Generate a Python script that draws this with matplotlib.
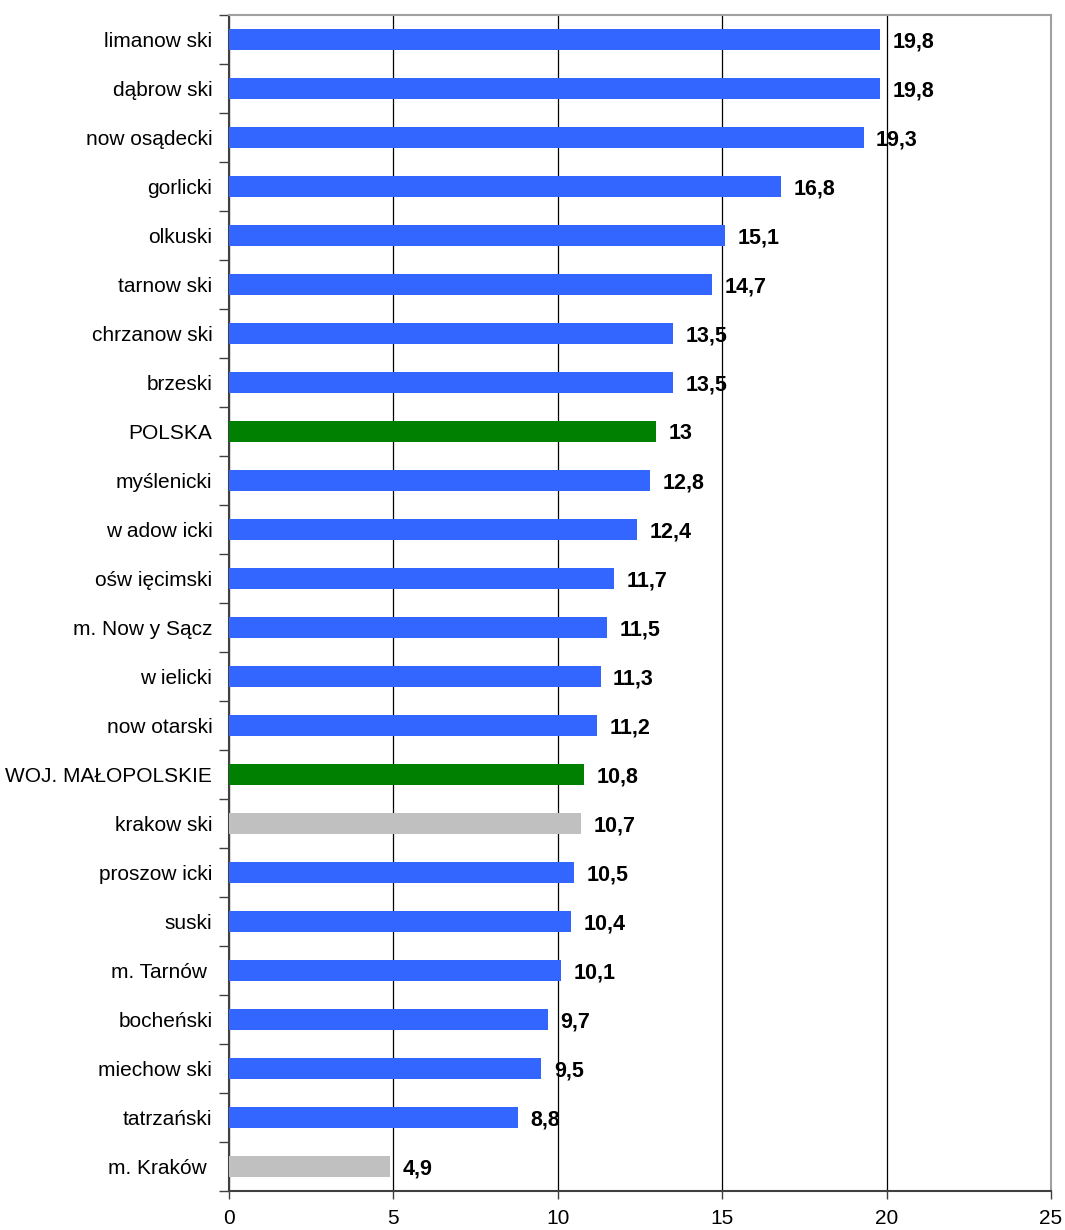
import numpy as np
import matplotlib.pyplot as plt
from matplotlib.ticker import FixedLocator, NullFormatter

# categories, top to bottom as in the chart
categories = ['limanow ski', 'dąbrow ski', 'now osądecki', 'gorlicki', 'olkuski',
              'tarnow ski', 'chrzanow ski', 'brzeski', 'POLSKA', 'myślenicki',
              'w adow icki', 'ośw ięcimski', 'm. Now y Sącz', 'w ielicki',
              'now otarski', 'WOJ. MAŁOPOLSKIE', 'krakow ski', 'proszow icki',
              'suski', 'm. Tarnów ', 'bocheński', 'miechow ski', 'tatrzański',
              'm. Kraków ']
values = [19.8, 19.8, 19.3, 16.8, 15.1, 14.7, 13.5, 13.5, 13, 12.8, 12.4, 11.7,
          11.5, 11.3, 11.2, 10.8, 10.7, 10.5, 10.4, 10.1, 9.7, 9.5, 8.8, 4.9]
value_labels = ['19,8', '19,8', '19,3', '16,8', '15,1', '14,7', '13,5', '13,5',
                '13', '12,8', '12,4', '11,7', '11,5', '11,3', '11,2', '10,8',
                '10,7', '10,5', '10,4', '10,1', '9,7', '9,5', '8,8', '4,9']
green_cats = ['POLSKA', 'WOJ. MAŁOPOLSKIE']
gray_cats = ['krakow ski', 'm. Kraków ']

BLUE = '#3366FF'
GREEN = '#008000'
GRAY = '#C0C0C0'

plt.rcParams['font.family'] = ['Liberation Sans', 'DejaVu Sans']

fig = plt.figure(figsize=(10.65, 12.3), dpi=100)
ax = fig.add_axes([229 / 1065, 1 - 1191 / 1230, (1051 - 229) / 1065, (1191 - 15) / 1230])

n = len(categories)
y = np.arange(n)
colors = [GREEN if c in green_cats else GRAY if c in gray_cats else BLUE for c in categories]

ax.barh(y, values, height=0.43, color=colors, zorder=3)

for yi, v, lab in zip(y, values, value_labels):
    ax.annotate(lab, (v, yi), xytext=(9, -1.5), textcoords='offset points',
                ha='left', va='center', fontsize=15.5, fontweight='bold', zorder=4)

ax.set_xlim(0, 25)
ax.set_ylim(n - 0.5, -0.5)
ax.set_xticks([0, 5, 10, 15, 20, 25])
ax.set_xticklabels(['0', '5', '10', '15', '20', '25'], fontsize=15)
ax.tick_params(axis='x', direction='out', length=6, width=1, pad=7, color='#404040')

# category labels at bar centres, tick marks at the row boundaries
ax.set_yticks(y)
ax.set_yticklabels(categories, fontsize=15)
ax.tick_params(axis='y', which='major', length=0, pad=12)
ax.yaxis.set_minor_locator(FixedLocator(np.arange(n + 1) - 0.5))
ax.yaxis.set_minor_formatter(NullFormatter())
ax.tick_params(axis='y', which='minor', direction='out', length=7, width=1, color='#404040')

ax.grid(axis='x', color='black', linewidth=0.9, zorder=1)
ax.grid(axis='y', visible=False)

for side in ['left', 'bottom']:
    ax.spines[side].set_color('#404040')
    ax.spines[side].set_linewidth(1.5)
for side in ['top', 'right']:
    ax.spines[side].set_color('#a0a0a0')
    ax.spines[side].set_linewidth(1.5)

plt.savefig('out.png', dpi=100)
